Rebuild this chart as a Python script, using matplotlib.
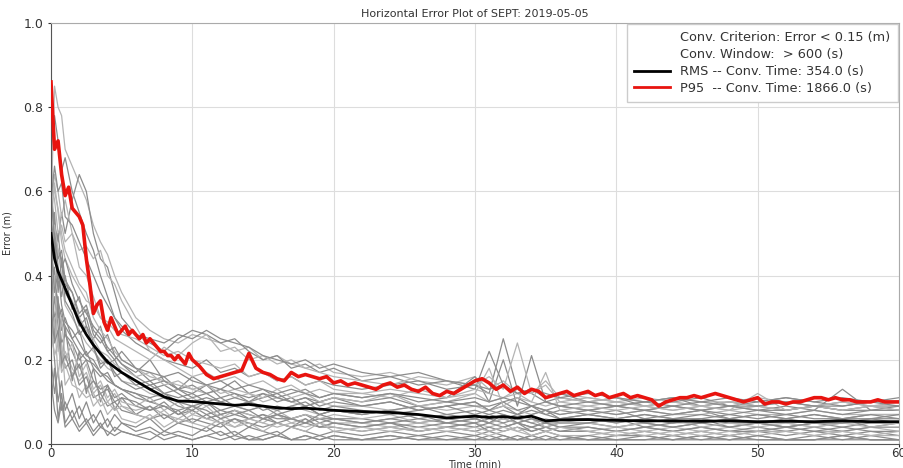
import numpy as np
import matplotlib
matplotlib.use('Agg')
import matplotlib.pyplot as plt
from matplotlib.lines import Line2D

# time grid for the individual (gray) runs, minutes
t_runs = ([0, 0.25, 0.5, 0.75, 1] +
          [1.5, 2, 2.5, 3, 3.5, 4, 4.5, 5] +
          list(range(6, 21)) +
          [22, 24, 26, 28, 30] +
          [31, 32, 33, 34, 35, 36] +
          list(range(38, 61, 2)))

# individual runs, each split into the same 6 groups as t_runs
runs = [
    [[0.55, 0.85, 0.80, 0.78, 0.70],
     [0.66, 0.62, 0.58, 0.52, 0.48, 0.45, 0.40, 0.36],
     [0.30, 0.27, 0.25, 0.24, 0.26, 0.25, 0.24, 0.22, 0.23, 0.20, 0.21, 0.19, 0.18, 0.19, 0.17],
     [0.16, 0.17, 0.15, 0.14, 0.16],
     [0.13, 0.15, 0.12, 0.13, 0.11, 0.12],
     [0.11, 0.10, 0.11, 0.10, 0.09, 0.10, 0.09, 0.10, 0.09, 0.10, 0.09, 0.09]],
    [[0.60, 0.52, 0.48, 0.55, 0.50],
     [0.58, 0.64, 0.60, 0.50, 0.44, 0.42, 0.36, 0.30],
     [0.26, 0.24, 0.22, 0.25, 0.27, 0.26, 0.24, 0.25, 0.22, 0.20, 0.21, 0.18, 0.19, 0.17, 0.18],
     [0.15, 0.16, 0.14, 0.15, 0.13],
     [0.22, 0.14, 0.12, 0.13, 0.11, 0.12],
     [0.10, 0.09, 0.10, 0.11, 0.09, 0.10, 0.09, 0.08, 0.09, 0.08, 0.09, 0.08]],
    [[0.70, 0.78, 0.72, 0.65, 0.68],
     [0.60, 0.55, 0.50, 0.46, 0.40, 0.35, 0.30, 0.27],
     [0.24, 0.22, 0.20, 0.19, 0.18, 0.20, 0.17, 0.18, 0.16, 0.17, 0.15, 0.16, 0.14, 0.15, 0.14],
     [0.13, 0.14, 0.15, 0.13, 0.14],
     [0.12, 0.25, 0.13, 0.12, 0.10, 0.11],
     [0.10, 0.11, 0.09, 0.10, 0.11, 0.09, 0.10, 0.11, 0.10, 0.09, 0.10, 0.10]],
    [[0.50, 0.45, 0.40, 0.38, 0.33],
     [0.30, 0.27, 0.24, 0.22, 0.20, 0.18, 0.17, 0.15],
     [0.14, 0.12, 0.11, 0.10, 0.11, 0.09, 0.10, 0.09, 0.08, 0.09, 0.08, 0.09, 0.08, 0.07, 0.08],
     [0.07, 0.08, 0.07, 0.06, 0.07],
     [0.06, 0.07, 0.06, 0.05, 0.06, 0.05],
     [0.06, 0.05, 0.06, 0.05, 0.05, 0.06, 0.05, 0.05, 0.04, 0.05, 0.05, 0.05]],
    [[0.30, 0.20, 0.10, 0.15, 0.08],
     [0.12, 0.06, 0.10, 0.05, 0.08, 0.04, 0.07, 0.05],
     [0.04, 0.06, 0.03, 0.05, 0.04, 0.03, 0.05, 0.02, 0.04, 0.03, 0.02, 0.04, 0.03, 0.02, 0.03],
     [0.02, 0.03, 0.02, 0.03, 0.02],
     [0.03, 0.02, 0.01, 0.02, 0.03, 0.02],
     [0.01, 0.02, 0.02, 0.01, 0.02, 0.01, 0.02, 0.01, 0.02, 0.01, 0.02, 0.01]],
    [[0.45, 0.55, 0.42, 0.35, 0.40],
     [0.32, 0.35, 0.28, 0.25, 0.28, 0.22, 0.20, 0.22],
     [0.18, 0.15, 0.16, 0.13, 0.12, 0.14, 0.11, 0.12, 0.10, 0.11, 0.12, 0.10, 0.11, 0.09, 0.10],
     [0.09, 0.10, 0.08, 0.09, 0.10],
     [0.08, 0.09, 0.07, 0.08, 0.07, 0.08],
     [0.07, 0.08, 0.06, 0.07, 0.08, 0.06, 0.07, 0.06, 0.07, 0.06, 0.07, 0.07]],
    [[0.40, 0.30, 0.25, 0.20, 0.22],
     [0.18, 0.15, 0.17, 0.12, 0.14, 0.10, 0.12, 0.09],
     [0.08, 0.09, 0.07, 0.06, 0.08, 0.06, 0.07, 0.05, 0.06, 0.05, 0.07, 0.05, 0.06, 0.04, 0.05],
     [0.05, 0.04, 0.05, 0.04, 0.05],
     [0.04, 0.05, 0.03, 0.04, 0.05, 0.04],
     [0.03, 0.04, 0.03, 0.04, 0.03, 0.04, 0.03, 0.04, 0.03, 0.03, 0.04, 0.03]],
    [[0.58, 0.50, 0.46, 0.44, 0.38],
     [0.36, 0.30, 0.32, 0.26, 0.24, 0.26, 0.21, 0.19],
     [0.17, 0.20, 0.15, 0.13, 0.16, 0.14, 0.13, 0.15, 0.12, 0.13, 0.11, 0.12, 0.13, 0.11, 0.12],
     [0.11, 0.12, 0.10, 0.11, 0.16],
     [0.10, 0.20, 0.09, 0.21, 0.10, 0.09],
     [0.08, 0.09, 0.08, 0.09, 0.08, 0.09, 0.08, 0.09, 0.08, 0.13, 0.08, 0.08]],
    [[0.35, 0.42, 0.30, 0.32, 0.26],
     [0.24, 0.20, 0.22, 0.18, 0.16, 0.17, 0.14, 0.13],
     [0.12, 0.10, 0.11, 0.09, 0.08, 0.10, 0.07, 0.08, 0.07, 0.06, 0.07, 0.06, 0.05, 0.06, 0.05],
     [0.04, 0.05, 0.04, 0.05, 0.04],
     [0.05, 0.04, 0.05, 0.04, 0.03, 0.04],
     [0.04, 0.03, 0.04, 0.03, 0.04, 0.03, 0.04, 0.03, 0.04, 0.03, 0.04, 0.04]],
    [[0.62, 0.58, 0.50, 0.52, 0.48],
     [0.50, 0.46, 0.47, 0.44, 0.46, 0.40, 0.38, 0.34],
     [0.28, 0.22, 0.20, 0.18, 0.16, 0.17, 0.15, 0.16, 0.14, 0.15, 0.13, 0.14, 0.12, 0.13, 0.12],
     [0.12, 0.11, 0.13, 0.11, 0.12],
     [0.10, 0.11, 0.12, 0.10, 0.09, 0.10],
     [0.09, 0.10, 0.09, 0.08, 0.09, 0.08, 0.09, 0.08, 0.09, 0.08, 0.09, 0.09]],
    [[0.20, 0.12, 0.18, 0.08, 0.10],
     [0.06, 0.09, 0.05, 0.07, 0.04, 0.06, 0.03, 0.05],
     [0.03, 0.04, 0.02, 0.03, 0.02, 0.04, 0.02, 0.03, 0.01, 0.02, 0.03, 0.01, 0.02, 0.01, 0.02],
     [0.01, 0.02, 0.01, 0.02, 0.01],
     [0.02, 0.01, 0.02, 0.01, 0.01, 0.02],
     [0.01, 0.01, 0.02, 0.01, 0.01, 0.02, 0.01, 0.01, 0.01, 0.02, 0.01, 0.01]],
    [[0.48, 0.38, 0.34, 0.30, 0.28],
     [0.25, 0.22, 0.20, 0.19, 0.17, 0.15, 0.14, 0.13],
     [0.11, 0.10, 0.09, 0.08, 0.09, 0.07, 0.08, 0.07, 0.06, 0.07, 0.06, 0.06, 0.07, 0.06, 0.06],
     [0.06, 0.05, 0.06, 0.05, 0.06],
     [0.05, 0.06, 0.05, 0.04, 0.05, 0.05],
     [0.05, 0.04, 0.05, 0.04, 0.05, 0.04, 0.05, 0.04, 0.05, 0.04, 0.05, 0.05]],
    [[0.52, 0.62, 0.55, 0.48, 0.44],
     [0.40, 0.37, 0.34, 0.33, 0.30, 0.29, 0.27, 0.26],
     [0.25, 0.23, 0.21, 0.22, 0.20, 0.19, 0.18, 0.19, 0.16, 0.17, 0.15, 0.16, 0.14, 0.15, 0.13],
     [0.12, 0.13, 0.12, 0.11, 0.13],
     [0.12, 0.11, 0.13, 0.12, 0.14, 0.10],
     [0.11, 0.10, 0.09, 0.10, 0.09, 0.10, 0.09, 0.08, 0.09, 0.10, 0.09, 0.09]],
    [[0.25, 0.35, 0.28, 0.22, 0.18],
     [0.20, 0.14, 0.16, 0.11, 0.12, 0.09, 0.10, 0.08],
     [0.07, 0.06, 0.07, 0.05, 0.06, 0.05, 0.04, 0.06, 0.05, 0.04, 0.05, 0.04, 0.05, 0.04, 0.04],
     [0.03, 0.04, 0.03, 0.04, 0.03],
     [0.04, 0.03, 0.04, 0.03, 0.04, 0.03],
     [0.03, 0.02, 0.03, 0.02, 0.03, 0.02, 0.03, 0.02, 0.03, 0.02, 0.03, 0.02]],
    [[0.42, 0.48, 0.38, 0.40, 0.36],
     [0.33, 0.28, 0.30, 0.24, 0.21, 0.19, 0.20, 0.17],
     [0.15, 0.13, 0.14, 0.12, 0.10, 0.11, 0.10, 0.09, 0.10, 0.08, 0.09, 0.08, 0.09, 0.07, 0.08],
     [0.07, 0.08, 0.06, 0.07, 0.06],
     [0.07, 0.06, 0.07, 0.06, 0.05, 0.06],
     [0.06, 0.05, 0.06, 0.05, 0.06, 0.05, 0.05, 0.06, 0.05, 0.05, 0.06, 0.06]],
    [[0.56, 0.64, 0.60, 0.54, 0.58],
     [0.50, 0.42, 0.40, 0.35, 0.30, 0.28, 0.25, 0.24],
     [0.22, 0.20, 0.23, 0.21, 0.24, 0.26, 0.22, 0.23, 0.20, 0.21, 0.19, 0.20, 0.18, 0.17, 0.16],
     [0.15, 0.14, 0.16, 0.15, 0.14],
     [0.16, 0.13, 0.24, 0.12, 0.15, 0.11],
     [0.10, 0.11, 0.10, 0.11, 0.10, 0.10, 0.11, 0.10, 0.09, 0.10, 0.09, 0.10]],
    [[0.38, 0.28, 0.32, 0.24, 0.26],
     [0.22, 0.18, 0.20, 0.15, 0.13, 0.14, 0.11, 0.12],
     [0.09, 0.08, 0.10, 0.07, 0.08, 0.06, 0.07, 0.08, 0.06, 0.07, 0.05, 0.06, 0.07, 0.05, 0.06],
     [0.05, 0.06, 0.05, 0.06, 0.05],
     [0.06, 0.05, 0.06, 0.05, 0.04, 0.05],
     [0.05, 0.06, 0.04, 0.05, 0.06, 0.04, 0.05, 0.04, 0.05, 0.06, 0.04, 0.05]],
    [[0.15, 0.08, 0.05, 0.10, 0.04],
     [0.06, 0.03, 0.05, 0.02, 0.04, 0.03, 0.02, 0.03],
     [0.02, 0.03, 0.01, 0.02, 0.01, 0.02, 0.01, 0.02, 0.01, 0.01, 0.02, 0.01, 0.01, 0.02, 0.01],
     [0.01, 0.01, 0.02, 0.01, 0.01],
     [0.01, 0.01, 0.01, 0.02, 0.01, 0.01],
     [0.01, 0.01, 0.01, 0.01, 0.02, 0.01, 0.01, 0.01, 0.01, 0.01, 0.01, 0.01]],
    [[0.66, 0.60, 0.56, 0.50, 0.46],
     [0.42, 0.38, 0.36, 0.30, 0.27, 0.25, 0.22, 0.20],
     [0.18, 0.16, 0.15, 0.14, 0.13, 0.12, 0.13, 0.11, 0.12, 0.10, 0.11, 0.10, 0.09, 0.10, 0.09],
     [0.09, 0.08, 0.09, 0.08, 0.09],
     [0.08, 0.09, 0.08, 0.07, 0.08, 0.07],
     [0.08, 0.07, 0.08, 0.07, 0.07, 0.08, 0.07, 0.07, 0.08, 0.07, 0.07, 0.07]],
    [[0.45, 0.25, 0.35, 0.18, 0.28],
     [0.15, 0.22, 0.12, 0.18, 0.10, 0.14, 0.08, 0.11],
     [0.07, 0.09, 0.06, 0.08, 0.05, 0.07, 0.05, 0.06, 0.04, 0.06, 0.05, 0.04, 0.06, 0.04, 0.05],
     [0.04, 0.05, 0.03, 0.04, 0.05],
     [0.03, 0.04, 0.05, 0.03, 0.04, 0.03],
     [0.04, 0.03, 0.04, 0.03, 0.04, 0.03, 0.03, 0.04, 0.03, 0.04, 0.03, 0.03]],
    [[0.35, 0.30, 0.33, 0.27, 0.30],
     [0.25, 0.27, 0.21, 0.23, 0.18, 0.20, 0.16, 0.17],
     [0.14, 0.15, 0.12, 0.13, 0.11, 0.12, 0.10, 0.11, 0.10, 0.12, 0.10, 0.11, 0.09, 0.10, 0.11],
     [0.09, 0.10, 0.08, 0.09, 0.10],
     [0.08, 0.10, 0.08, 0.09, 0.08, 0.07],
     [0.08, 0.07, 0.08, 0.07, 0.08, 0.07, 0.08, 0.07, 0.08, 0.07, 0.08, 0.08]],
    [[0.28, 0.40, 0.22, 0.30, 0.20],
     [0.24, 0.16, 0.19, 0.13, 0.15, 0.11, 0.13, 0.10],
     [0.09, 0.11, 0.08, 0.10, 0.07, 0.09, 0.06, 0.08, 0.07, 0.06, 0.08, 0.06, 0.07, 0.06, 0.07],
     [0.06, 0.07, 0.05, 0.06, 0.07],
     [0.05, 0.06, 0.05, 0.06, 0.04, 0.05],
     [0.05, 0.04, 0.05, 0.06, 0.04, 0.05, 0.04, 0.05, 0.04, 0.05, 0.04, 0.05]],
    [[0.58, 0.66, 0.60, 0.62, 0.54],
     [0.52, 0.48, 0.44, 0.40, 0.36, 0.33, 0.30, 0.28],
     [0.26, 0.25, 0.24, 0.26, 0.25, 0.27, 0.25, 0.24, 0.23, 0.21, 0.20, 0.19, 0.20, 0.18, 0.19],
     [0.17, 0.16, 0.17, 0.15, 0.14],
     [0.13, 0.14, 0.12, 0.13, 0.12, 0.11],
     [0.12, 0.11, 0.10, 0.11, 0.10, 0.11, 0.10, 0.11, 0.10, 0.11, 0.10, 0.11]],
    [[0.47, 0.36, 0.41, 0.33, 0.29],
     [0.27, 0.24, 0.21, 0.20, 0.17, 0.16, 0.14, 0.13],
     [0.12, 0.11, 0.12, 0.10, 0.09, 0.10, 0.08, 0.09, 0.08, 0.09, 0.07, 0.08, 0.09, 0.07, 0.08],
     [0.07, 0.08, 0.09, 0.07, 0.08],
     [0.07, 0.08, 0.07, 0.09, 0.07, 0.06],
     [0.07, 0.06, 0.07, 0.06, 0.07, 0.06, 0.07, 0.06, 0.07, 0.06, 0.06, 0.07]],
    [[0.22, 0.30, 0.16, 0.24, 0.14],
     [0.17, 0.11, 0.14, 0.09, 0.11, 0.07, 0.09, 0.06],
     [0.05, 0.07, 0.04, 0.06, 0.05, 0.04, 0.06, 0.04, 0.05, 0.03, 0.05, 0.04, 0.03, 0.05, 0.04],
     [0.03, 0.04, 0.03, 0.04, 0.03],
     [0.02, 0.03, 0.04, 0.02, 0.03, 0.02],
     [0.02, 0.03, 0.02, 0.03, 0.02, 0.03, 0.02, 0.03, 0.02, 0.03, 0.02, 0.02]],
    [[0.54, 0.46, 0.50, 0.42, 0.44],
     [0.38, 0.34, 0.31, 0.28, 0.26, 0.23, 0.21, 0.19],
     [0.16, 0.14, 0.15, 0.13, 0.14, 0.12, 0.13, 0.12, 0.11, 0.12, 0.11, 0.10, 0.11, 0.10, 0.11],
     [0.10, 0.11, 0.09, 0.10, 0.09],
     [0.09, 0.10, 0.11, 0.09, 0.08, 0.09],
     [0.08, 0.09, 0.08, 0.09, 0.08, 0.09, 0.08, 0.08, 0.09, 0.08, 0.08, 0.09]],
    [[0.32, 0.24, 0.27, 0.19, 0.21],
     [0.16, 0.19, 0.13, 0.15, 0.12, 0.13, 0.10, 0.11],
     [0.10, 0.08, 0.09, 0.07, 0.09, 0.08, 0.06, 0.07, 0.08, 0.06, 0.07, 0.06, 0.05, 0.07, 0.06],
     [0.05, 0.06, 0.07, 0.05, 0.06],
     [0.05, 0.07, 0.05, 0.06, 0.05, 0.04],
     [0.05, 0.06, 0.05, 0.04, 0.05, 0.06, 0.05, 0.04, 0.05, 0.05, 0.06, 0.05]],
    [[0.44, 0.52, 0.46, 0.40, 0.37],
     [0.34, 0.30, 0.27, 0.25, 0.22, 0.21, 0.19, 0.18],
     [0.16, 0.17, 0.14, 0.15, 0.13, 0.14, 0.12, 0.13, 0.12, 0.11, 0.13, 0.11, 0.12, 0.10, 0.11],
     [0.10, 0.12, 0.09, 0.10, 0.12],
     [0.18, 0.09, 0.11, 0.10, 0.17, 0.08],
     [0.09, 0.08, 0.09, 0.08, 0.09, 0.08, 0.12, 0.08, 0.09, 0.08, 0.09, 0.08]],
    [[0.10, 0.18, 0.06, 0.12, 0.05],
     [0.08, 0.04, 0.06, 0.03, 0.05, 0.02, 0.04, 0.03],
     [0.02, 0.01, 0.03, 0.02, 0.01, 0.02, 0.03, 0.01, 0.02, 0.01, 0.02, 0.01, 0.02, 0.01, 0.02],
     [0.01, 0.02, 0.01, 0.01, 0.02],
     [0.01, 0.02, 0.01, 0.01, 0.02, 0.01],
     [0.02, 0.01, 0.01, 0.02, 0.01, 0.01, 0.02, 0.01, 0.01, 0.02, 0.01, 0.01]],
    [[0.60, 0.48, 0.44, 0.46, 0.39],
     [0.36, 0.31, 0.33, 0.27, 0.25, 0.22, 0.23, 0.20],
     [0.18, 0.17, 0.16, 0.17, 0.15, 0.14, 0.15, 0.13, 0.14, 0.13, 0.12, 0.13, 0.12, 0.11, 0.12],
     [0.11, 0.12, 0.11, 0.10, 0.11],
     [0.10, 0.11, 0.10, 0.09, 0.10, 0.09],
     [0.10, 0.09, 0.10, 0.09, 0.10, 0.09, 0.09, 0.10, 0.09, 0.09, 0.10, 0.09]],
    [[0.27, 0.21, 0.24, 0.17, 0.19],
     [0.14, 0.13, 0.11, 0.12, 0.09, 0.10, 0.08, 0.09],
     [0.07, 0.06, 0.08, 0.05, 0.07, 0.06, 0.05, 0.04, 0.06, 0.05, 0.04, 0.05, 0.04, 0.05, 0.03],
     [0.04, 0.03, 0.04, 0.03, 0.04],
     [0.03, 0.04, 0.03, 0.02, 0.03, 0.04],
     [0.03, 0.02, 0.03, 0.02, 0.03, 0.02, 0.03, 0.03, 0.02, 0.03, 0.02, 0.03]],
    [[0.40, 0.50, 0.36, 0.44, 0.34],
     [0.31, 0.26, 0.28, 0.23, 0.19, 0.20, 0.17, 0.15],
     [0.13, 0.14, 0.12, 0.11, 0.12, 0.10, 0.11, 0.09, 0.10, 0.09, 0.08, 0.09, 0.10, 0.08, 0.09],
     [0.08, 0.07, 0.08, 0.09, 0.07],
     [0.08, 0.07, 0.06, 0.07, 0.08, 0.06],
     [0.07, 0.06, 0.07, 0.06, 0.06, 0.07, 0.06, 0.07, 0.06, 0.06, 0.07, 0.06]],
]

# RMS over all runs
rms_t = [0, 0.25, 0.5, 1, 1.5, 2, 2.5, 3, 3.5, 4, 5, 6, 7, 8, 9, 10, 11, 12, 13, 14,
         15, 16, 17, 18, 19, 20, 22, 24, 26, 27, 28, 29, 30, 31, 32, 33, 34, 35, 36,
         38, 40, 42, 44, 46, 48, 50, 52, 54, 56, 58, 60]
rms_v = [0.50, 0.44, 0.41, 0.37, 0.33, 0.29, 0.26, 0.235, 0.215, 0.195, 0.17, 0.15,
         0.13, 0.112, 0.102, 0.101, 0.098, 0.095, 0.092, 0.094, 0.09, 0.086, 0.084,
         0.085, 0.083, 0.08, 0.077, 0.075, 0.07, 0.066, 0.062, 0.064, 0.066, 0.063,
         0.065, 0.062, 0.066, 0.055, 0.057, 0.058, 0.056, 0.055, 0.055, 0.054, 0.055,
         0.053, 0.054, 0.053, 0.055, 0.053, 0.053]

# 95th percentile, every 0.25 min up to 10 min, then every 0.5 min
p95_t = list(np.arange(0, 10, 0.25)) + list(np.arange(10, 60.01, 0.5))
p95_v = [0.86, 0.70, 0.72, 0.64, 0.59, 0.61, 0.56, 0.55, 0.54, 0.52,
         0.44, 0.38, 0.31, 0.33, 0.34, 0.29, 0.27, 0.30, 0.28, 0.26,
         0.27, 0.28, 0.26, 0.27, 0.26, 0.25, 0.26, 0.24, 0.25, 0.24,
         0.23, 0.22, 0.22, 0.21, 0.21, 0.20, 0.21, 0.20, 0.19, 0.215,
         0.20, 0.185, 0.165, 0.155, 0.16, 0.165, 0.17, 0.175, 0.215, 0.18,
         0.17, 0.165, 0.155, 0.15, 0.17, 0.16, 0.165, 0.16, 0.155, 0.16,
         0.145, 0.15, 0.14, 0.145, 0.14, 0.135, 0.13, 0.14, 0.145, 0.135,
         0.14, 0.13, 0.125, 0.135, 0.12, 0.115, 0.125, 0.12, 0.13, 0.14,
         0.15, 0.155, 0.145, 0.13, 0.14, 0.125, 0.135, 0.12, 0.13, 0.125,
         0.11, 0.115, 0.12, 0.125, 0.115, 0.12, 0.125, 0.115, 0.12, 0.11,
         0.115, 0.12, 0.11, 0.115, 0.11, 0.105, 0.09, 0.10, 0.105, 0.11,
         0.11, 0.115, 0.11, 0.115, 0.12, 0.115, 0.11, 0.105, 0.10, 0.105,
         0.11, 0.095, 0.10, 0.10, 0.095, 0.10, 0.10, 0.105, 0.11, 0.11,
         0.105, 0.11, 0.105, 0.105, 0.10, 0.10, 0.10, 0.105, 0.10, 0.10,
         0.10]

fig = plt.figure(figsize=(9.04, 4.68), dpi=100)
ax = fig.add_axes([51/904, 24/468, 848/904, 421/468])

for i, r in enumerate(runs):
    vals = sum(r, [])
    n = min(len(t_runs), len(vals))
    col = '#8c8c8c' if i % 3 else '#b4b4b4'
    ax.plot(t_runs[:n], vals[:n], color=col, lw=0.9, zorder=2)

ax.plot(rms_t, rms_v, color='black', lw=2, zorder=4)
n = min(len(p95_t), len(p95_v))
ax.plot(p95_t[:n], p95_v[:n], color='#e8140f', lw=2.6, zorder=5)

ax.set_xlim(0, 60)
ax.set_ylim(0, 1.0)
ax.set_xticks([0, 10, 20, 30, 40, 50, 60])
ax.set_yticks([0.0, 0.2, 0.4, 0.6, 0.8, 1.0])
ax.tick_params(labelsize=9, length=2, colors='#333333')
ax.tick_params(axis='x', labelsize=8.5, pad=0.5)
ax.grid(True, color='#dddddd', lw=0.8)
ax.set_axisbelow(True)
for s in ['top', 'right']:
    ax.spines[s].set_color('#aaaaaa')
for s in ['left', 'bottom']:
    ax.spines[s].set_color('#555555')

ax.set_title('Horizontal Error Plot of SEPT: 2019-05-05', fontsize=8, color='#333333', pad=4)
ax.set_xlabel('Time (min)', fontsize=7, color='#333333', labelpad=-0.5)
ax.set_ylabel('Error (m)', fontsize=7, color='#333333', labelpad=8)

blank = Line2D([], [], color='none')
handles = [blank, blank,
           Line2D([], [], color='black', lw=2),
           Line2D([], [], color='#e8140f', lw=2)]
labels = ['Conv. Criterion: Error < 0.15 (m)',
          'Conv. Window:  > 600 (s)',
          'RMS -- Conv. Time: 354.0 (s)',
          'P95  -- Conv. Time: 1866.0 (s)']
leg = ax.legend(handles, labels, loc='upper right', fontsize=9.3, fancybox=False,
                framealpha=1, edgecolor='#cccccc', handlelength=2.8,
                borderpad=0.55, labelspacing=0.3, borderaxespad=0.1)
for txt in leg.get_texts():
    txt.set_color('#333333')

plt.savefig('out.png', dpi=100)
